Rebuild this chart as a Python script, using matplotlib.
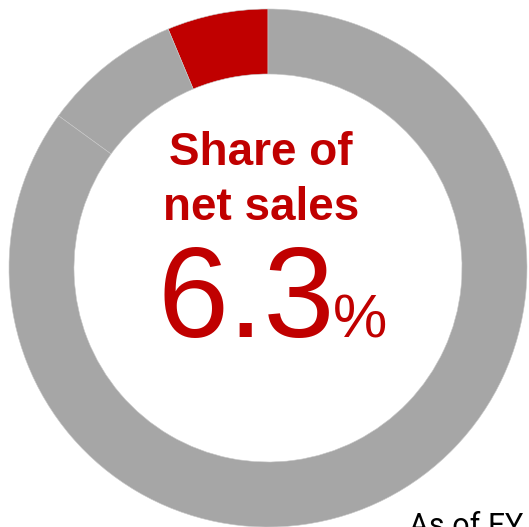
import matplotlib.pyplot as plt

plt.rcParams['font.family'] = ['Liberation Sans', 'DejaVu Sans']

# shares of the ring, counter-clockwise from 12 o'clock
labels = ['Share', 'Other 1', 'Other 2']
shares = [6.3, 8.7, 85.0]
colors = ['#C00000', '#A6A6A6', '#A6A6A6']

share_value = '6.3'
title_lines = ['Share of', 'net sales']
note = 'As of FY'

W, H = 529, 527
fig = plt.figure(figsize=(W / 100, H / 100), dpi=100)
ax = fig.add_axes([0, 0, 1, 1])

red = '#C00000'
ax.pie(shares, colors=colors, startangle=90, counterclock=True,
       center=(268, 259), radius=259, frame=True,
       wedgeprops=dict(width=65, edgecolor='#C8C8C8', linewidth=0.4))
ax.set_xlim(0, W)
ax.set_ylim(0, H)
ax.set_aspect('equal')
ax.axis('off')

ax.text(261, 362, title_lines[0], ha='center', va='baseline',
        fontsize=33, fontweight='bold', color=red)
ax.text(261, 307, title_lines[1], ha='center', va='baseline',
        fontsize=33, fontweight='bold', color=red)
ax.text(158, 190, share_value, ha='left', va='baseline',
        fontsize=92, color=red)
ax.text(333, 190, '%', ha='left', va='baseline',
        fontsize=44, color=red)

ax.text(409, -8, note, ha='left', va='baseline', fontsize=22,
        color='black', family=['Roboto', 'DejaVu Sans'], clip_on=False)

fig.savefig('out.png', dpi=100)
